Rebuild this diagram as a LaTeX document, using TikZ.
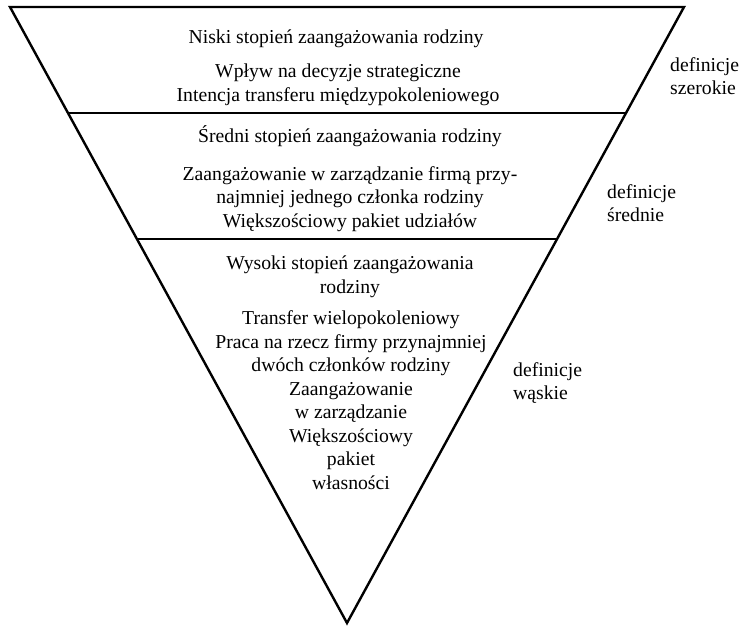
\documentclass[tikz,border=0pt]{standalone}
\usepackage{fontspec}
\setmainfont{Liberation Serif}
\usetikzlibrary{calc}
\begin{document}
\begin{tikzpicture}[x=1pt,y=-1pt,
  edge/.style={line width=2.4pt,line join=miter},
  divider/.style={line width=1.6pt},
  txt/.style={align=center,anchor=base,inner sep=0pt,font=\fontsize{19.7}{23.5}\selectfont},
  lbl/.style={align=left,anchor=base west,inner sep=0pt,font=\fontsize{19.7}{23}\selectfont}]
\useasboundingbox (0,0) rectangle (747,627);
\coordinate (A) at (10,7);
\coordinate (B) at (684,7);
\coordinate (C) at (347,623);
\draw[edge] (A) -- (B) -- (C) -- cycle;
\coordinate (L1) at ($(A)!0.1721!(C)$);
\coordinate (R1) at ($(B)!0.1721!(C)$);
\coordinate (L2) at ($(A)!0.3766!(C)$);
\coordinate (R2) at ($(B)!0.3766!(C)$);
\draw[divider] (L1) -- (R1);
\draw[divider] (L2) -- (R2);
% block 1 (positions are baselines of the last line)
\node[txt] (h1) at (336,43) {Niski stopień zaangażowania rodziny};
\node[txt] (b1) at (338,101) {Wpływ na decyzje strategiczne\\Intencja transferu międzypokoleniowego};
% block 2
\node[txt] (h2) at (350,142) {Średni stopień zaangażowania rodziny};
\node[txt] (b2) at (350,227) {Zaangażowanie w zarządzanie firmą przy-\\najmniej jednego członka rodziny\\Większościowy pakiet udziałów};
% block 3
\node[txt] (h3) at (350,293) {Wysoki stopień zaangażowania\\rodziny};
\node[txt] (b3) at (351,489) {Transfer wielopokoleniowy\\Praca na rzecz firmy przynajmniej\\dwóch członków rodziny\\Zaangażowanie\\w zarządzanie\\Większościowy\\pakiet\\własności};
% side labels
\node[lbl] (s1) at (670,94) {definicje\\szerokie};
\node[lbl] (s2) at (607,221) {definicje\\średnie};
\node[lbl] (s3) at (513,399) {definicje\\wąskie};
\end{tikzpicture}
\end{document}
